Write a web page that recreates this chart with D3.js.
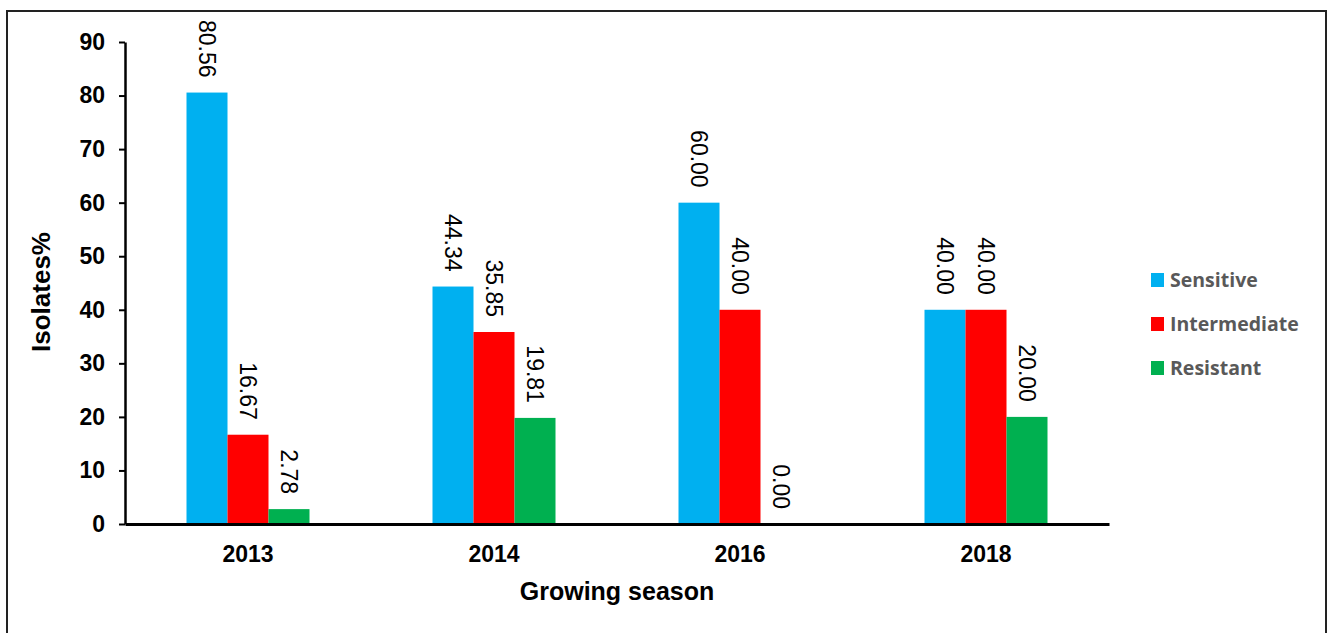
<!DOCTYPE html>
<html>
<head>
<meta charset="utf-8">
<script src="https://cdn.jsdelivr.net/npm/d3@7"></script>
<style>
  html, body { margin: 0; padding: 0; background: #fff; }
  svg { display: block; }
</style>
</head>
<body>
<svg id="chart" width="1328" height="633"></svg>
<script>
// Growing seasons and isolate response classes
const seasons = ["2013", "2014", "2016", "2018"];
const seriesNames = ["Sensitive", "Intermediate", "Resistant"];
const sensitive = [80.56, 44.34, 60.00, 40.00];
const intermediate = [16.67, 35.85, 40.00, 40.00];
const resistant = [2.78, 19.81, 0.00, 20.00];
const yTicks = [0, 10, 20, 30, 40, 50, 60, 70, 80, 90];
const colors = ["#00B0F0", "#FF0000", "#00B050"];

const seriesValues = [sensitive, intermediate, resistant];
const rows = seasons.map((s, i) => ({
  season: s,
  values: seriesNames.map((n, k) => ({ name: n, value: seriesValues[k][i], color: colors[k] }))
}));

const svg = d3.select("#chart");

// outer frame
svg.append("rect")
  .attr("x", 7).attr("y", 11)
  .attr("width", 1319).attr("height", 640)
  .attr("fill", "none").attr("stroke", "#222").attr("stroke-width", 2);

const plot = { left: 125, right: 1109, top: 42, bottom: 524 };

const x = d3.scaleBand().domain(seasons).range([plot.left, plot.right]);
const barW = 41;
const xInner = d3.scaleBand().domain(seriesNames).range([0, barW * 3]);
const y = d3.scaleLinear().domain([0, 90]).range([plot.bottom, plot.top]);

// bars
const groups = svg.append("g").selectAll("g").data(rows).join("g")
  .attr("transform", d => `translate(${x(d.season) + x.bandwidth() / 2 - barW * 1.5},0)`);

groups.selectAll("rect").data(d => d.values).join("rect")
  .attr("x", d => xInner(d.name))
  .attr("width", xInner.bandwidth())
  .attr("y", d => y(d.value))
  .attr("height", d => y(0) - y(d.value))
  .attr("fill", d => d.color);

// rotated value labels above each bar
groups.selectAll("text").data(d => d.values).join("text")
  .attr("transform", d => `translate(${xInner(d.name) + xInner.bandwidth() / 2},${y(d.value) - 15}) rotate(90)`)
  .attr("text-anchor", "end")
  .attr("dy", "0.35em")
  .attr("font-family", "'Liberation Sans', Arial, sans-serif")
  .attr("font-size", 23)
  .attr("fill", "#000")
  .text(d => d.value.toFixed(2));

// y axis
const yAxis = svg.append("g")
  .attr("transform", `translate(${plot.left},0)`)
  .call(d3.axisLeft(y).tickValues(yTicks).tickSize(6).tickPadding(14).tickSizeOuter(0));
yAxis.select(".domain").attr("stroke", "#000").attr("stroke-width", 2.5);
yAxis.selectAll(".tick line").attr("stroke", "#000").attr("stroke-width", 2);
yAxis.selectAll(".tick text")
  .attr("font-family", "'Liberation Sans', Arial, sans-serif")
  .attr("font-weight", "bold")
  .attr("font-size", 23)
  .attr("fill", "#000");

// x axis
const xAxis = svg.append("g")
  .attr("transform", `translate(0,${plot.bottom})`)
  .call(d3.axisBottom(x).tickSize(0).tickPadding(22).tickSizeOuter(0));
xAxis.select(".domain").attr("stroke", "#000").attr("stroke-width", 3);
xAxis.selectAll(".tick text")
  .attr("font-family", "'Liberation Sans', Arial, sans-serif")
  .attr("font-weight", "bold")
  .attr("font-size", 23)
  .attr("fill", "#000");

// axis titles
svg.append("text")
  .attr("x", (plot.left + plot.right) / 2).attr("y", 600)
  .attr("text-anchor", "middle")
  .attr("font-family", "'Liberation Sans', Arial, sans-serif")
  .attr("font-weight", "bold").attr("font-size", 25)
  .text("Growing season");

svg.append("text")
  .attr("transform", "translate(50,292) rotate(-90)")
  .attr("text-anchor", "middle")
  .attr("font-family", "'Liberation Sans', Arial, sans-serif")
  .attr("font-weight", "bold").attr("font-size", 26)
  .text("Isolates%");

// legend
const legend = svg.append("g").selectAll("g").data(seriesNames).join("g")
  .attr("transform", (d, i) => `translate(1151,${280 + i * 44})`);
legend.append("rect")
  .attr("x", 0).attr("y", -7).attr("width", 13).attr("height", 14)
  .attr("fill", (d, i) => colors[i]);
legend.append("text")
  .attr("x", 19).attr("dy", "0.36em")
  .attr("font-family", "'Open Sans', sans-serif")
  .attr("font-weight", 700).attr("font-size", 19.5)
  .attr("fill", "#595959")
  .text(d => d);
</script>
</body>
</html>
